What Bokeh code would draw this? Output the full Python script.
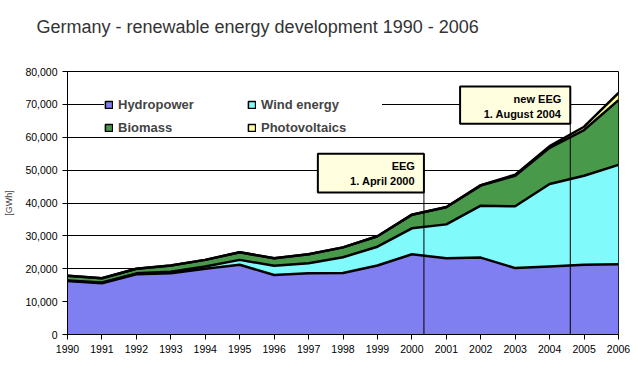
import numpy as np
from bokeh.plotting import figure
from bokeh.models import (ColumnDataSource, Range1d, Legend, LegendItem, BoxAnnotation,
                          Label, NumeralTickFormatter, FixedTicker, Title)
from bokeh.embed import file_html
from bokeh.resources import INLINE

# ---- data (GWh) ----
years = list(range(1990, 2007))
hydro = [16300, 15600, 18300, 18600, 20000, 21200, 18100, 18600, 18700, 21000,
         24400, 23200, 23400, 20200, 20700, 21200, 21400]
wind = [100, 200, 300, 500, 700, 1500, 2800, 3100, 4800, 5700,
        7900, 10300, 15800, 18800, 25100, 27100, 30200]
biomass = [1500, 1300, 1400, 1900, 2000, 2300, 2300, 2700, 3000, 3200,
           4100, 5200, 6100, 9300, 11000, 13900, 19700]
pv = [0, 0, 0, 0, 0, 0, 0, 0, 0, 0,
      50, 80, 150, 300, 500, 1000, 2200]

series_names = ["Hydropower", "Wind energy", "Biomass", "Photovoltaics"]
series_keys = ["hydro", "wind", "biomass", "pv"]
colors = ["#7f7ff2", "#80fafa", "#48994a", "#ffff99"]
y_ticks = list(range(0, 80001, 10000))

# policy events: (line1, line2, date, box left, box top, box bottom)
events = [
    ("EEG", "1. April 2000", 2000.35, 1997.27, 55000, 43200),
    ("new EEG", "1. August 2004", 2004.6, 2001.4, 75400, 64100),
]

title = "Germany - renewable energy development 1990 - 2006"
FONT = "Liberation Sans"

# ---- build ----
src = dict(year=years, hydro=hydro, wind=wind, biomass=biomass, pv=pv)
cum = np.cumsum(np.array([hydro, wind, biomass, pv], dtype=float), axis=0)
for i, k in enumerate(series_keys):
    src["top_" + k] = cum[i]
source = ColumnDataSource(src)

p = figure(width=630, height=361, output_backend="svg", toolbar_location=None,
           x_range=Range1d(1990, 2006), y_range=Range1d(0, 80000),
           min_border_left=67, min_border_right=12, min_border_top=71, min_border_bottom=27,
           title=title)
p.background_fill_color = "white"
p.border_fill_color = "white"
p.outline_line_color = "black"
p.outline_line_width = 1

p.title.text_font = FONT
p.title.text_font_size = "18px"
p.title.text_font_style = "normal"
p.title.text_color = "#333333"
p.title.align = "left"
p.title.offset = -31
p.title.standoff = 0
# blank spacer panel between the frame and the title
p.add_layout(Title(text=" ", text_font_size="10px", standoff=22), "above")

p.varea_stack(stackers=series_keys, x="year", color=colors, source=source)
for k in series_keys:
    p.line(x="year", y="top_" + k, source=source, line_color="black", line_width=2.5)

# event markers
for l1, l2, x, left, top, bottom in events:
    p.segment(x0=[x], y0=[0], x1=[x], y1=[bottom], line_color="black", line_width=1)
    p.add_layout(BoxAnnotation(left=left, right=x, top=top, bottom=bottom,
                               fill_color="#ffffe0", fill_alpha=1,
                               line_color="black", line_width=2, line_alpha=1))
    p.add_layout(Label(x=x, y=top, x_offset=-9, y_offset=-6, text=l1 + "\n" + l2,
                       text_align="right", text_baseline="top",
                       text_font=FONT, text_font_size="11px", text_font_style="bold",
                       text_line_height=1.3, text_color="black"))

# axes
p.xaxis.ticker = FixedTicker(ticks=years)
p.yaxis.ticker = FixedTicker(ticks=y_ticks)
p.yaxis.formatter = NumeralTickFormatter(format="0,0")
for ax in (p.xaxis[0], p.yaxis[0]):
    ax.axis_line_color = "black"
    ax.major_tick_line_color = "black"
    ax.major_tick_out = 5
    ax.major_tick_in = 0
    ax.minor_tick_line_color = None
    ax.major_label_text_font = FONT
    ax.major_label_text_font_size = "10.5px"
    ax.major_label_text_color = "black"
p.yaxis.axis_label = "[GWh]"
p.yaxis.axis_label_text_font = FONT
p.yaxis.axis_label_text_font_size = "9px"
p.yaxis.axis_label_text_font_style = "normal"
p.yaxis.axis_label_standoff = 8

p.xgrid.grid_line_color = None
p.ygrid.grid_line_color = "black"
p.ygrid.grid_line_width = 1
p.ygrid.ticker = FixedTicker(ticks=y_ticks)

# legend with bordered squares (proxy renderers, nothing drawn in the plot)
proxy = {n: [float("nan")] for n in ("left", "right", "top", "bottom")}
renderers = {}
for name, c in zip(series_names, colors):
    renderers[name] = p.quad(source=ColumnDataSource(proxy), left="left", right="right",
                             top="top", bottom="bottom", fill_color=c,
                             line_color="black", line_width=1.5)
order = ["Hydropower", "Biomass", "Wind energy", "Photovoltaics"]  # column-major fill
items = [LegendItem(label=n, renderers=[renderers[n]]) for n in order]
legend = Legend(items=items, ncols=2, location=(37, 199),
                background_fill_color="white", background_fill_alpha=1,
                border_line_color=None,
                label_text_font=FONT, label_text_font_size="13px",
                label_text_font_style="bold",
                glyph_width=9, glyph_height=9, label_standoff=5,
                label_width=121, label_height=14, spacing=8, padding=3, margin=0)
p.add_layout(legend)

open("out.html", "w").write(file_html(p, INLINE))
